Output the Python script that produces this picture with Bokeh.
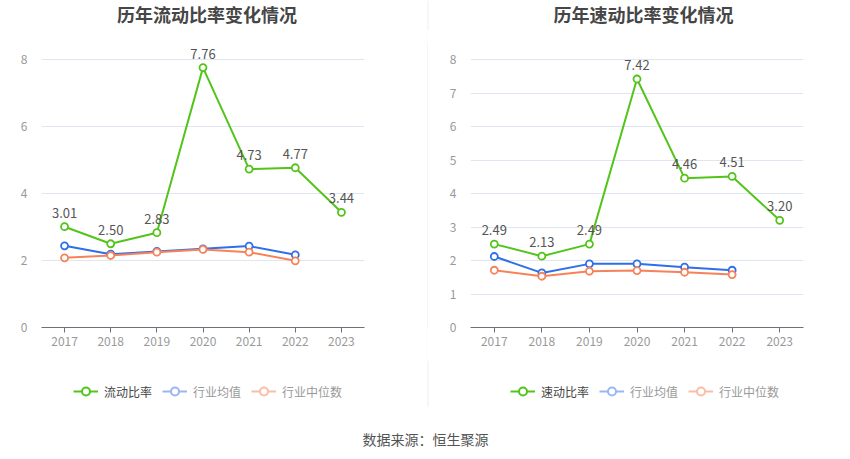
from bokeh.plotting import figure
from bokeh.models import FactorRange, Range1d, FixedTicker, Legend, LegendItem
from bokeh.layouts import row, column
from bokeh.embed import file_html
from bokeh.resources import INLINE
from bokeh.core.properties import value

years = ["2017", "2018", "2019", "2020", "2021", "2022", "2023"]
ind_years = ["2017", "2018", "2019", "2020", "2021", "2022"]

current_ratio = [3.01, 2.50, 2.83, 7.76, 4.73, 4.77, 3.44]
current_avg = [2.44, 2.19, 2.27, 2.35, 2.43, 2.17]
current_median = [2.08, 2.15, 2.25, 2.33, 2.25, 1.99]

quick_ratio = [2.49, 2.13, 2.49, 7.42, 4.46, 4.51, 3.20]
quick_avg = [2.12, 1.63, 1.90, 1.90, 1.80, 1.71]
quick_median = [1.71, 1.53, 1.68, 1.70, 1.65, 1.58]

left_ticks = [0, 2, 4, 6, 8]
right_ticks = [0, 1, 2, 3, 4, 5, 6, 7, 8]

titles = ["历年流动比率变化情况", "历年速动比率变化情况"]
left_legend = ["流动比率", "行业均值", "行业中位数"]
right_legend = ["速动比率", "行业均值", "行业中位数"]
source_note = "数据来源：恒生聚源"

FONT = "Noto Sans CJK SC"
GREEN = "#52c41a"
BLUE = "#2f6fe8"
ORANGE = "#f7825a"
BLUE_L = "#9ab6f3"
ORANGE_L = "#fbbda7"
SEP = "#eeeeee"

W = 850
TH = 30          # title strip height
CH = 330         # chart figure height
BH = 459 - TH - CH


def strip(height):
    f = figure(width=W, height=height, output_backend="svg", toolbar_location=None,
               min_border=0, x_range=Range1d(0, W), y_range=Range1d(0, height))
    f.axis.visible = False
    f.grid.visible = False
    f.outline_line_color = None
    return f


# title strip
top = strip(TH)
top.segment(x0=[427.5], y0=[0], x1=[427.5], y1=[TH], line_color=SEP, line_width=1)
top.text(x=[206.5, 643], y=[TH - 13, TH - 13], text=titles, text_align="center",
         text_baseline="middle", text_font_size="18px", text_font_style="bold",
         text_color="#464646", text_font=value(FONT))


def make_chart(main, avg, med, ticks, width, bl, br):
    p = figure(x_range=FactorRange(*years), y_range=Range1d(0, 8.51),
               width=width, height=CH, output_backend="svg",
               toolbar_location=None, min_border_left=bl, min_border_right=br,
               min_border_top=12, min_border_bottom=33)
    p.outline_line_color = None
    p.background_fill_color = "white"
    p.border_fill_color = "white"

    p.xgrid.grid_line_color = None
    p.ygrid.grid_line_color = "#e0e6f1"
    p.yaxis.ticker = FixedTicker(ticks=ticks)
    p.yaxis.axis_line_color = None
    p.yaxis.major_tick_line_color = None
    p.yaxis.minor_tick_line_color = None
    p.yaxis.major_label_text_color = "#999999"
    p.yaxis.major_label_text_font = FONT
    p.yaxis.major_label_text_font_size = "12px"
    p.yaxis.major_label_standoff = 8
    p.xaxis.axis_line_color = "#6e7079"
    p.xaxis.major_tick_line_color = "#6e7079"
    p.xaxis.major_tick_in = 0
    p.xaxis.major_tick_out = 5
    p.xaxis.minor_tick_line_color = None
    p.xaxis.major_label_text_color = "#999999"
    p.xaxis.major_label_text_font = FONT
    p.xaxis.major_label_text_font_size = "12px"
    p.xaxis.major_label_standoff = 4

    p.line(x=years, y=main, line_color=GREEN, line_width=2)
    p.scatter(x=years, y=main, size=7, fill_color="white", line_color=GREEN, line_width=1.8)
    p.line(x=ind_years, y=avg, line_color=BLUE, line_width=2)
    p.scatter(x=ind_years, y=avg, size=7, fill_color="white", line_color=BLUE, line_width=1.8)
    p.line(x=ind_years, y=med, line_color=ORANGE, line_width=2)
    p.scatter(x=ind_years, y=med, size=7, fill_color="white", line_color=ORANGE, line_width=1.8)
    p.text(x=years, y=main, text=[f"{v:.2f}" for v in main], y_offset=-9,
           text_align="center", text_baseline="bottom", text_font_size="13px",
           text_color="#555555", text_font=value(FONT))
    return p


p1 = make_chart(current_ratio, current_avg, current_median, left_ticks, 427, 41, 63)
p2 = make_chart(quick_ratio, quick_avg, quick_median, right_ticks, 422, 42, 47)

sep = figure(width=1, height=CH, output_backend="svg", toolbar_location=None,
             min_border=0, x_range=Range1d(0, 1), y_range=Range1d(0, 1))
sep.axis.visible = False
sep.grid.visible = False
sep.outline_line_color = None
sep.background_fill_color = SEP
sep.border_fill_color = SEP

# bottom strip: legends, end of the separator, source note (screen-pixel coordinates)
bottom = strip(BH)
bottom.segment(x0=[427.5], y0=[BH], x1=[427.5], y1=[459 - 406],
               line_color=SEP, line_width=1)
bottom.text(x=[425], y=[459 - 438], text=[source_note], text_align="center",
            text_baseline="middle", text_font_size="14px", text_color="#555555",
            text_font=value(FONT))


def legend_set(names, xs):
    colors = [(GREEN, "#444444"), (BLUE_L, "#999999"), (ORANGE_L, "#999999")]
    for nm, lx, (gc, tc) in zip(names, xs, colors):
        lr = bottom.line(x=[-100, -90], y=[-100, -100], line_color=gc, line_width=2)
        sr = bottom.scatter(x=[-100], y=[-100], fill_color="white", line_color=gc, line_width=2)
        leg = Legend(items=[LegendItem(label=nm, renderers=[lr, sr])],
                     location=(lx, 459 - 401), orientation="horizontal",
                     border_line_color=None, background_fill_alpha=0,
                     padding=0, margin=0, glyph_width=25, glyph_height=20,
                     label_standoff=6, label_text_font=FONT,
                     label_text_font_size="12px", label_text_color=tc)
        bottom.add_layout(leg, "center")


legend_set(left_legend, [73, 162, 251])
legend_set(right_legend, [510, 599, 688])

layout = column(top, row(p1, sep, p2), bottom)
open("out.html", "w").write(file_html(layout, INLINE))
